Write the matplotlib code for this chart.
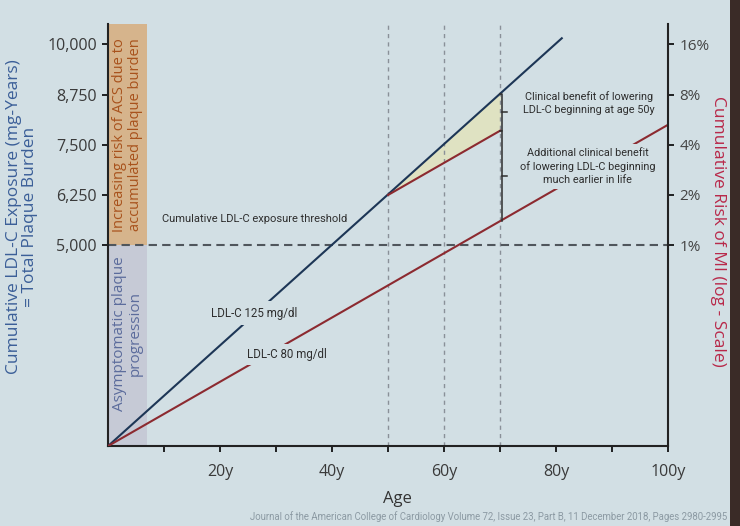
import numpy as np
import matplotlib
matplotlib.use('Agg')
import matplotlib.pyplot as plt
from matplotlib.patches import Rectangle

# values
ages_125 = [0, 81]
exposure_125 = [0, 10150]
ages_80 = [0, 100]
exposure_80 = [0, 8000]
ages_late = [50, 70]            # LDL-C lowered from age 50
exposure_late = [6250, 7850]
threshold = 5000
marker_ages = [50, 60, 70]
band_width = 7

left_ticks = [5000, 6250, 7500, 8750, 10000]
left_labels = ['5,000', '6,250', '7,500', '8,750', '10,000']
risk_ticks = [1, 2, 4, 8, 16]
risk_labels = ['1%', '2%', '4%', '8%', '16%']
age_ticks = [10, 20, 30, 40, 50, 60, 70, 80, 90, 100]
age_labels = ['', '20y', '', '40y', '', '60y', '', '80y', '', '100y']

bg = '#d2dfe4'
blue = '#1d3656'
red = '#8c2a30'
dark = '#2e2e2e'
narrow = 'Roboto'   # closest to the slide's condensed annotation face

plt.rcParams['font.family'] = ['Open Sans', 'DejaVu Sans']

fig = plt.figure(figsize=(7.4, 5.26), dpi=100, facecolor=bg)
ax = fig.add_axes([0.146, 0.152, 0.757, 0.802], facecolor=bg)
ax.set_xlim(0, 100)
ax.set_ylim(0, 10500)

# side bands
ax.fill_between([0, band_width], 0, threshold, color='#c6cad6', lw=0, zorder=1)
ax.fill_between([0, band_width], threshold, 10500, color='#d6b48c', lw=0, zorder=1)
ax.text(band_width / 2, 2800, 'Asymptomatic plaque\nprogression', rotation=90,
        ha='center', va='center', fontsize=11, linespacing=1.05, color='#5c6c9c', zorder=4)
ax.text(band_width / 2, (threshold + 10500) / 2,
        'Increasing risk of ACS due to\naccumulated plaque burden', rotation=90,
        ha='center', va='center', fontsize=10.5, linespacing=1.05, color='#a8521c', zorder=4)

# benefit area between the two upper lines
xs = np.array(ages_late)
ax.fill_between(xs, np.interp(xs, ages_125, exposure_125), exposure_late,
                color='#dfe2c2', lw=0, zorder=2)

for a in marker_ages:
    ax.axvline(a, color='#8a9098', lw=1, ls=(0, (3, 3)), zorder=2)
ax.axhline(threshold, color='#50565c', lw=1.5, ls=(0, (4, 2.5)), zorder=2)

ax.plot(ages_125, exposure_125, color=blue, lw=1.5, zorder=3)
ax.plot(ages_80, exposure_80, color=red, lw=1.5, zorder=3)
ax.plot(ages_late, exposure_late, color=red, lw=1.5, zorder=3)

ax.text(26, 3300, 'LDL-C 125 mg/dl', ha='center', va='center', family=narrow, fontsize=8.3,
        color=dark, bbox=dict(facecolor=bg, edgecolor='none', pad=4), zorder=5)
ax.text(32, 2270, 'LDL-C 80 mg/dl', ha='center', va='center', family=narrow, fontsize=8.3,
        color=dark, bbox=dict(facecolor=bg, edgecolor='none', pad=3), zorder=5)
ax.text(9.6, 5650, 'Cumulative LDL-C exposure threshold', ha='left', va='center',
        family=narrow, fontsize=8, color=dark, zorder=5)

# brackets at age 70
b_top = np.interp(70, ages_125, exposure_125)
b_mid = exposure_late[-1]
b_low = np.interp(70, ages_80, exposure_80)
bx = 70.4
ax.plot([70, bx, bx, 70], [b_top, b_top, b_mid, b_mid], color=dark, lw=1.1, zorder=6)
ax.plot([bx, 71.2], [(b_top + b_mid) / 2] * 2, color=dark, lw=1.1, zorder=6)
ax.plot([bx, bx], [b_mid, b_low], color=dark, lw=1.1, zorder=6)
ax.plot([bx, 71.2], [(b_mid + b_low) / 2] * 2, color=dark, lw=1.1, zorder=6)

ax.text(85.8, 8530, 'Clinical benefit of lowering\nLDL-C beginning at age 50y', ha='center',
        va='center', family=narrow, fontsize=7.8, linespacing=1.4, color=dark, zorder=5)
ax.text(85.6, 6960, 'Additional clinical benefit\nof lowering LDL-C beginning\nmuch earlier in life',
        ha='center', va='center', family=narrow, fontsize=7.8, linespacing=1.35, color=dark,
        bbox=dict(facecolor=bg, edgecolor='none', pad=3), zorder=5)

ax.set_yticks(left_ticks, left_labels)
ax.set_xticks(age_ticks, age_labels)
ax.tick_params(axis='y', direction='out', length=4, width=1.2, pad=4, labelsize=11.5,
               labelcolor='#3a3a3a')
ax.tick_params(axis='x', direction='out', length=4, width=1.2, pad=9, labelsize=11.5,
               labelcolor='#3a3a3a')
for s in ['top', 'right']:
    ax.spines[s].set_visible(False)
for s in ['left', 'bottom']:
    ax.spines[s].set_linewidth(1.5)
    ax.spines[s].set_color('#222222')

# log-scale risk axis, 1% lined up with the 5,000 threshold
ax2 = ax.twinx()
ax2.set_yscale('log', base=2)
ax2.set_ylim(2 ** (-threshold / 1250), 2 ** ((10500 - threshold) / 1250))
ax2.set_yticks(risk_ticks, risk_labels)
ax2.minorticks_off()
ax2.tick_params(axis='y', direction='out', length=4, width=1.2, pad=4, labelsize=11,
                labelcolor='#444444')
for s in ['top', 'left', 'bottom']:
    ax2.spines[s].set_visible(False)
ax2.spines['right'].set_linewidth(1.5)
ax2.spines['right'].set_color('#222222')

fig.text(22 / 740, 1 - 217 / 526, 'Cumulative LDL-C Exposure (mg-Years)\n= Total Plaque Burden',
         rotation=90, ha='center', va='center', fontsize=12.5, linespacing=1.05,
         color='#3b5f98', fontweight='medium')
fig.text(718 / 740, 1 - 231 / 526, 'Cumulative Risk of MI (log - Scale)', rotation=270,
         ha='center', va='center', fontsize=12.5, color='#b8294a')
fig.text(397 / 740, 1 - 499 / 526, 'Age', ha='center', va='center', fontsize=12, color='#333333')
fig.text(489 / 740, 1 - 517 / 526,
         'Journal of the American College of Cardiology Volume 72, Issue 23, Part B, '
         '11 December 2018, Pages 2980-2995',
         ha='center', va='center', family=narrow, fontsize=6.9, color='#8c9aa3')

fig.add_artist(Rectangle((730 / 740, 0), 10 / 740, 1, transform=fig.transFigure,
                         color='#3a2b27', lw=0))

fig.savefig('out.png', dpi=100, facecolor=bg)
